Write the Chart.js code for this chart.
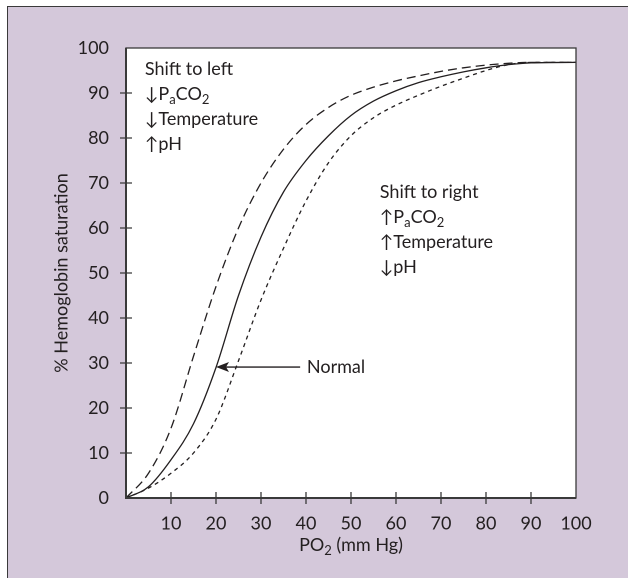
<!DOCTYPE html>
<html>
<head>
<meta charset="UTF-8">
<title>Oxyhemoglobin dissociation curve</title>
<script src="https://cdn.jsdelivr.net/npm/chart.js"></script>
<style>
  html, body { margin: 0; padding: 0; background: #fff; }
  #wrap { position: relative; width: 628px; height: 578px; overflow: hidden; }
  #frame {
    position: absolute; left: 7px; top: 6px; width: 640px; height: 600px;
    background: #d4c8da; border: 1.5px solid #3a3a3a;
  }
  #chart { position: absolute; left: 0; top: 0; }
</style>
</head>
<body>
<div id="wrap">
  <div id="frame"></div>
  <canvas id="chart" width="628" height="578"></canvas>
</div>
<script>
// Values: PO2 (mm Hg) and % saturation
const po2 = [0, 5, 10, 15, 20, 25, 30, 35, 40, 45, 50, 55, 60, 65, 70, 75, 80, 85, 90, 100];
const normalSat = [0, 2.5, 8.5, 16.5, 29, 45, 58, 68, 75, 80.5, 85, 88.2, 90.5, 92.3, 93.6, 94.7, 95.6, 96.3, 96.7, 96.8];
const leftSat   = [0, 5.5, 15.5, 31.5, 47, 60, 70, 77.5, 83, 86.8, 89.5, 91.3, 92.7, 93.8, 94.8, 95.6, 96.2, 96.6, 96.8, 96.8];
const rightSat  = [0, 2.2, 5.5, 10, 17.5, 30.5, 44, 55.5, 66, 74.5, 80.5, 84.5, 87.3, 89.5, 91.5, 93.3, 95, 96.3, 96.8, 96.8];

const tickValues = [0, 10, 20, 30, 40, 50, 60, 70, 80, 90, 100];

const INK = '#231f20';
const FONT = "Lato, 'DejaVu Sans', sans-serif";
const SIZE = 18;

function points(xs, ys) {
    return xs.map((x, i) => ({ x: x, y: ys[i] }));
}

// text with subscripts, parts like [{t:'P'},{t:'a',sub:true}]
function drawRich(ctx, x, y, parts) {
    for (const p of parts) {
        const s = p.sub ? 13 : SIZE;
        ctx.font = `${s}px ${FONT}`;
        ctx.fillText(p.t, x, p.sub ? y + 4 : y);
        x += ctx.measureText(p.t).width;
    }
}

function richWidth(ctx, parts) {
    let w = 0;
    parts.forEach(p => {
        ctx.font = `${p.sub ? 13 : SIZE}px ${FONT}`;
        w += ctx.measureText(p.t).width;
    });
    return w;
}

const leftNote = [
    [{ t: 'Shift to left' }],
    [{ t: '↓P' }, { t: 'a', sub: true }, { t: 'CO' }, { t: '2', sub: true }],
    [{ t: '↓Temperature' }],
    [{ t: '↑pH' }]
];
const rightNote = [
    [{ t: 'Shift to right' }],
    [{ t: '↑P' }, { t: 'a', sub: true }, { t: 'CO' }, { t: '2', sub: true }],
    [{ t: '↑Temperature' }],
    [{ t: '↓pH' }]
];

const decorations = {
    id: 'decorations',
    beforeDatasetsDraw(chart) {
        const { ctx, chartArea: a } = chart;
        ctx.save();
        ctx.fillStyle = '#fff';
        ctx.fillRect(a.left, a.top, a.right - a.left, a.bottom - a.top);
        ctx.restore();
    },
    afterDraw(chart) {
        const { ctx, chartArea: a, scales } = chart;
        const xs = scales.x, ys = scales.y;
        ctx.save();

        // plot frame
        ctx.strokeStyle = '#3a3a3a';
        ctx.lineWidth = 1.3;
        ctx.strokeRect(a.left, a.top, a.right - a.left, a.bottom - a.top);
        ctx.lineWidth = 2;
        ctx.beginPath();
        ctx.moveTo(a.left, a.top);
        ctx.lineTo(a.left, a.bottom);
        ctx.lineTo(a.right, a.bottom);
        ctx.stroke();

        // tick marks crossing the axes
        ctx.lineWidth = 1.3;
        ctx.beginPath();
        tickValues.slice(1, -1).forEach(v => {
            const px = xs.getPixelForValue(v);
            ctx.moveTo(px, a.bottom - 6);
            ctx.lineTo(px, a.bottom + 6);
            const py = ys.getPixelForValue(v);
            ctx.moveTo(a.left - 6, py);
            ctx.lineTo(a.left + 6, py);
        });
        ctx.stroke();

        ctx.fillStyle = INK;
        ctx.textBaseline = 'alphabetic';
        ctx.textAlign = 'left';

        // notes
        const lx = xs.getPixelForValue(4.2), ly = ys.getPixelForValue(94);
        leftNote.forEach((line, i) => drawRich(ctx, lx, ly + i * 25, line));
        const rx = xs.getPixelForValue(56.4), ry = ys.getPixelForValue(66.7);
        rightNote.forEach((line, i) => drawRich(ctx, rx, ry + i * 25, line));

        // "Normal" pointer
        const tipX = xs.getPixelForValue(20), tipY = ys.getPixelForValue(29.1);
        const tailX = xs.getPixelForValue(38.7);
        ctx.strokeStyle = INK;
        ctx.lineWidth = 1.3;
        ctx.beginPath();
        ctx.moveTo(tipX + 8, tipY);
        ctx.lineTo(tailX, tipY);
        ctx.stroke();
        ctx.beginPath();
        ctx.moveTo(tipX, tipY);
        ctx.lineTo(tipX + 13, tipY - 5);
        ctx.lineTo(tipX + 10, tipY);
        ctx.lineTo(tipX + 13, tipY + 5);
        ctx.closePath();
        ctx.fill();
        drawRich(ctx, xs.getPixelForValue(40.2), tipY + 6, [{ t: 'Normal' }]);

        // x axis title
        const parts = [{ t: 'PO' }, { t: '2', sub: true }, { t: ' (mm Hg)' }];
        const w = richWidth(ctx, parts);
        drawRich(ctx, (a.left + a.right) / 2 - w / 2, a.bottom + 53, parts);

        ctx.restore();
    }
};

const lineStyle = {
    borderColor: INK,
    borderWidth: 1.3,
    pointRadius: 0,
    fill: false,
    cubicInterpolationMode: 'monotone'
};

new Chart(document.getElementById('chart'), {
    type: 'line',
    data: {
        datasets: [
            Object.assign({ label: 'Normal', data: points(po2, normalSat) }, lineStyle),
            Object.assign({ label: 'Shift to left', data: points(po2, leftSat), borderDash: [9, 5] }, lineStyle),
            Object.assign({ label: 'Shift to right', data: points(po2, rightSat), borderDash: [4, 4] }, lineStyle)
        ]
    },
    options: {
        responsive: false,
        animation: false,
        devicePixelRatio: 2,
        layout: { padding: { left: 0, top: 48, right: 52, bottom: 0 } },
        plugins: {
            legend: { display: false },
            tooltip: { enabled: false }
        },
        scales: {
            x: {
                type: 'linear',
                min: 0,
                max: 100,
                grid: { display: false },
                border: { display: false },
                ticks: {
                    stepSize: 10,
                    color: INK,
                    padding: 7,
                    font: { family: FONT, size: SIZE },
                    callback: v => (v === 0 ? '' : v)
                },
                afterFit: s => { s.height = 80; }
            },
            y: {
                min: 0,
                max: 100,
                grid: { display: false },
                border: { display: false },
                ticks: {
                    stepSize: 10,
                    color: INK,
                    padding: 9,
                    font: { family: FONT, size: SIZE }
                },
                title: {
                    display: true,
                    text: '% Hemoglobin saturation',
                    color: INK,
                    font: { family: FONT, size: SIZE },
                    padding: { top: 51, bottom: 0 }
                },
                afterFit: s => { s.width = 126; }
            }
        }
    },
    plugins: [decorations]
});
</script>
</body>
</html>
